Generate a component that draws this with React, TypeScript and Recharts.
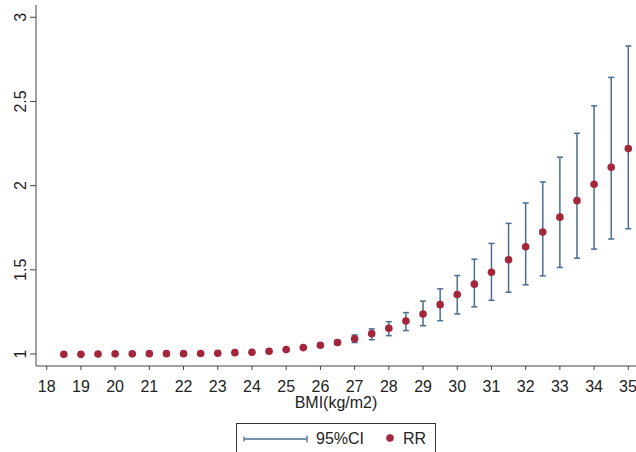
import React from 'react'
import {
  ScatterChart,
  Scatter,
  XAxis,
  YAxis,
  ErrorBar,
  Legend,
} from 'recharts'

const bmi = [
  18.5, 19, 19.5, 20, 20.5, 21, 21.5, 22, 22.5, 23, 23.5, 24, 24.5, 25, 25.5, 26, 26.5,
  27, 27.5, 28, 28.5, 29, 29.5, 30, 30.5, 31, 31.5, 32, 32.5, 33, 33.5, 34, 34.5, 35,
]
const rr = [
  0.998, 0.998, 1.0, 1.001, 1.001, 1.002, 1.002, 1.002, 1.003, 1.004, 1.008, 1.01, 1.016, 1.026,
  1.038, 1.052, 1.068, 1.091, 1.121, 1.153, 1.196, 1.238, 1.293, 1.353, 1.415, 1.486, 1.56,
  1.637, 1.724, 1.813, 1.911, 2.008, 2.109, 2.22,
]
const ciLow = [
  0.996, 0.996, 0.998, 0.999, 0.999, 1.0, 1.0, 1.0, 1.001, 1.002, 1.005, 1.007, 1.012, 1.021,
  1.031, 1.044, 1.056, 1.068, 1.085, 1.109, 1.139, 1.168, 1.198, 1.238, 1.28, 1.319, 1.367,
  1.411, 1.464, 1.514, 1.569, 1.623, 1.683, 1.744,
]
const ciHigh = [
  1.0, 1.0, 1.002, 1.003, 1.003, 1.004, 1.004, 1.004, 1.005, 1.006, 1.011, 1.013, 1.02, 1.031,
  1.045, 1.06, 1.08, 1.113, 1.149, 1.192, 1.246, 1.314, 1.387, 1.466, 1.563, 1.657, 1.776,
  1.897, 2.022, 2.169, 2.311, 2.474, 2.643, 2.83,
]
const xTicks = [18, 19, 20, 21, 22, 23, 24, 25, 26, 27, 28, 29, 30, 31, 32, 33, 34, 35]
const yTicks = [1, 1.5, 2, 2.5, 3]
const ciLabel = '95%CI'
const rrLabel = 'RR'
const xTitle = 'BMI(kg/m2)'

const rows = bmi.map((b, i) => ({ bmi: b, rr: rr[i], lo: ciLow[i], hi: ciHigh[i] }))

const FONT = '"Liberation Sans", Arial, sans-serif'
const TEXT = '#222'
const AXIS = '#444'
const BAR = '#4b6d91'
const DOT = '#a3263b'

function YTick(props: any) {
  const { x, y, payload } = props
  return (
    <text
      transform={`translate(${x - 2}, ${y}) rotate(-90)`}
      textAnchor="middle"
      fontSize={16}
      fontFamily={FONT}
      fill={TEXT}
    >
      {payload.value}
    </text>
  )
}

function LegendBox() {
  return (
    <div
      style={{
        border: '1px solid #333',
        height: 31,
        width: 200,
        boxSizing: 'border-box',
        display: 'flex',
        alignItems: 'center',
        fontFamily: FONT,
        fontSize: 16,
        color: TEXT,
        background: '#fff',
      }}
    >
      <svg width={72} height={16} style={{ marginLeft: 5 }}>
        <line x1={2} y1={8} x2={65} y2={8} stroke={BAR} strokeWidth={1.3} />
        <line x1={2} y1={5.5} x2={2} y2={10.5} stroke={BAR} strokeWidth={1.3} />
        <line x1={65} y1={4.5} x2={65} y2={11.5} stroke={BAR} strokeWidth={1.3} />
      </svg>
      <span style={{ marginLeft: 2 }}>{ciLabel}</span>
      <svg width={16} height={16} style={{ marginLeft: 20 }}>
        <circle cx={6} cy={7} r={3.8} fill={DOT} />
      </svg>
      <span style={{ marginLeft: 3 }}>{rrLabel}</span>
    </div>
  )
}

export default function App() {
  return (
    <div style={{ position: 'absolute', left: 0, top: 0, background: '#fff', fontFamily: FONT }}>
      <ScatterChart width={636} height={452} margin={{ top: 5, right: 0, left: 0, bottom: 0 }}>
        <XAxis
          type="number"
          dataKey="bmi"
          domain={[17.687, 35.225]}
          ticks={xTicks}
          allowDataOverflow
          height={86}
          tickSize={4}
          tickMargin={11}
          stroke={AXIS}
          tick={{ fontSize: 16, fill: TEXT, fontFamily: FONT }}
          label={{
            value: xTitle,
            position: 'insideTop',
            offset: 31,
            style: { fontSize: 16, fill: TEXT, fontFamily: FONT },
          }}
        />
        <YAxis
          type="number"
          dataKey="rr"
          domain={[0.9287, 3.073]}
          ticks={yTicks}
          allowDataOverflow
          width={36}
          tickSize={6}
          tickMargin={2}
          stroke={AXIS}
          tick={<YTick />}
        />
        <Legend
          layout="horizontal"
          verticalAlign="middle"
          align="center"
          wrapperStyle={{ left: 236, top: 423, width: 200, height: 31 }}
          content={() => <LegendBox />}
        />
        <Scatter
          data={rows}
          fill={DOT}
          isAnimationActive={false}
          shape={(p: any) => <circle cx={p.cx} cy={p.cy} r={3.8} fill={DOT} />}
        >
          <ErrorBar
            dataKey={(d: any) => [d.rr - d.lo, d.hi - d.rr]}
            direction="y"
            width={3}
            stroke={BAR}
            strokeWidth={1.5}
            isAnimationActive={false}
          />
        </Scatter>
      </ScatterChart>
    </div>
  )
}
